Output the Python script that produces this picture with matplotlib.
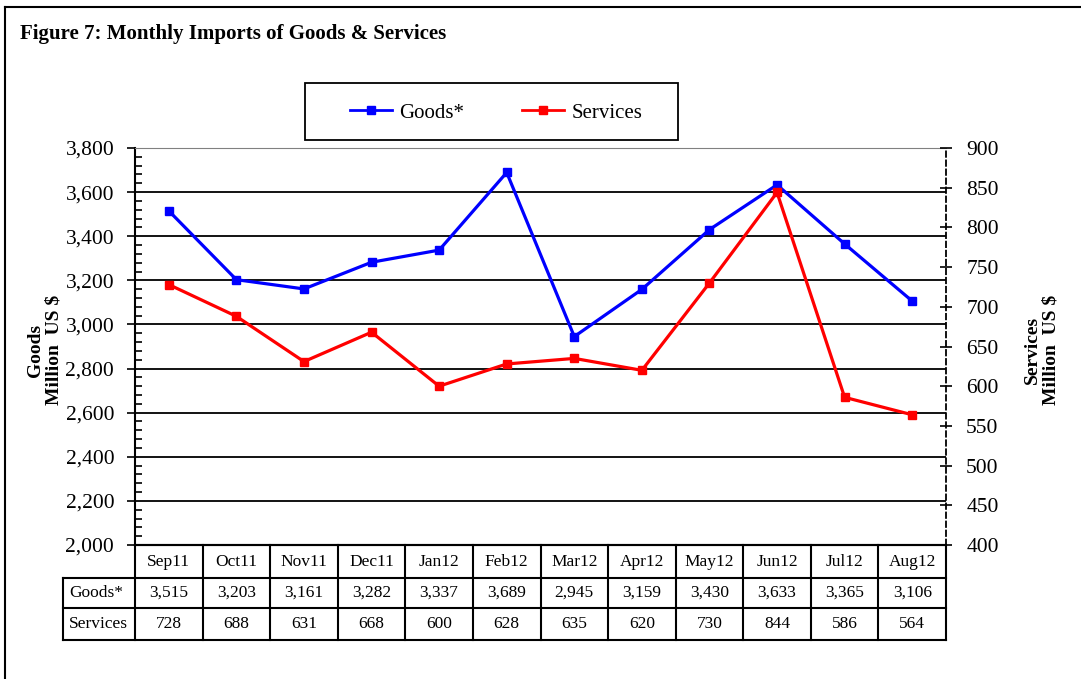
import matplotlib
matplotlib.use("Agg")
import matplotlib.pyplot as plt
from matplotlib.ticker import MultipleLocator, FuncFormatter
from matplotlib.patches import Rectangle
from matplotlib.lines import Line2D

plt.rcParams['font.family'] = ['Liberation Serif', 'DejaVu Serif']

months = ['Sep11', 'Oct11', 'Nov11', 'Dec11', 'Jan12', 'Feb12',
          'Mar12', 'Apr12', 'May12', 'Jun12', 'Jul12', 'Aug12']
goods = [3515, 3203, 3161, 3282, 3337, 3689, 2945, 3159, 3430, 3633, 3365, 3106]
services = [728, 688, 631, 668, 600, 628, 635, 620, 730, 844, 586, 564]
row_names = ['Goods*', 'Services']

W, H = 1081, 679
fig = plt.figure(figsize=(W / 100, H / 100), dpi=100)

# plot area in pixels
L, R, T, B = 135, 946, 148, 545
ax = fig.add_axes([L / W, 1 - B / H, (R - L) / W, (B - T) / H])
ax2 = ax.twinx()

x = list(range(len(months)))
ax.plot(x, goods, color='#0000ff', lw=2.3, marker='s', ms=6, zorder=5)
ax2.plot(x, services, color='#ff0000', lw=2.3, marker='s', ms=6, zorder=5)

ax.set_xlim(-0.5, 11.5)
ax.set_ylim(2000, 3800)
ax2.set_ylim(400, 900)

# left axis
ax.yaxis.set_major_locator(MultipleLocator(200))
ax.yaxis.set_minor_locator(MultipleLocator(40))
ax.yaxis.set_major_formatter(FuncFormatter(lambda v, p: f'{v:,.0f}'))
ax.tick_params(axis='y', which='major', direction='out', length=6, width=1.2,
               labelsize=15.5, pad=9)
ax.tick_params(axis='y', which='minor', direction='in', length=5, width=1.2)
ax.set_xticks([])
ax.grid(axis='y', which='major', color='black', lw=1.3)
ax.set_axisbelow(True)
ax.spines['left'].set_linewidth(1.5)
ax.spines['bottom'].set_linewidth(1.5)
ax.spines['top'].set_color('#808080')
ax.spines['right'].set_visible(False)

# right axis
ax2.yaxis.set_major_locator(MultipleLocator(50))
ax2.tick_params(axis='y', which='major', direction='inout', length=9, width=1.2,
                labelsize=15.5, pad=10)
ax2.spines['right'].set_linestyle((0, (3, 2)))
ax2.spines['right'].set_linewidth(1.3)
for s in ['left', 'top', 'bottom']:
    ax2.spines[s].set_visible(False)

# axis titles
fig.text(45 / W, 1 - 350 / H, 'Goods\nMillion  US $', rotation=90, ha='center',
         va='center', fontsize=14, fontweight='bold', linespacing=1.1)
fig.text(1042 / W, 1 - 350 / H, 'Services\nMillion  US $', rotation=90, ha='center',
         va='center', fontsize=14, fontweight='bold', linespacing=1.1)

# data table below the plot
aw, ah = R - L, B - T
def fx(px):
    return (px - L) / aw
def fy(py):
    return (B - py) / ah

rows_y = [545, 578, 608, 640]
lab_left = fx(63)
n = len(months)
kw = dict(transform=ax.transAxes, clip_on=False, color='black', lw=1.5)
# horizontal lines
ax.add_line(Line2D([0, 1], [fy(rows_y[0])] * 2, **kw))
for py in rows_y[1:]:
    ax.add_line(Line2D([lab_left, 1], [fy(py)] * 2, **kw))
# vertical lines
for i in range(n + 1):
    ax.add_line(Line2D([i / n, i / n], [fy(rows_y[0]), fy(rows_y[-1])], **kw))
ax.add_line(Line2D([lab_left, lab_left], [fy(rows_y[1]), fy(rows_y[-1])], **kw))

centers = [(rows_y[k] + rows_y[k + 1]) / 2 for k in range(3)]
for i, m in enumerate(months):
    xc = (i + 0.5) / n
    ax.text(xc, fy(centers[0]), m, transform=ax.transAxes, ha='center',
            va='center', fontsize=12.5)
    ax.text(xc, fy(centers[1]), f'{goods[i]:,}', transform=ax.transAxes,
            ha='center', va='center', fontsize=12.5)
    ax.text(xc, fy(centers[2]), f'{services[i]:,}', transform=ax.transAxes,
            ha='center', va='center', fontsize=12.5)
for k, name in enumerate(row_names):
    ax.text(fx(69), fy(centers[k + 1]), name, transform=ax.transAxes,
            ha='left', va='center', fontsize=12.5)

# legend with manual box
fig.patches.append(Rectangle((305 / W, 1 - 140 / H), 373 / W, 57 / H,
                             transform=fig.transFigure, fill=False,
                             edgecolor='black', lw=1.3))
handles = [Line2D([], [], color='#0000ff', lw=2, marker='s', ms=6),
           Line2D([], [], color='#ff0000', lw=2, marker='s', ms=6)]
fig.legend(handles, row_names, loc='center', bbox_to_anchor=(496 / W, 1 - 113 / H),
           ncol=2, frameon=False, fontsize=15, handlelength=2.0,
           columnspacing=2.8, handletextpad=0.35)

# title and outer border
fig.text(20 / W, 1 - 34 / H, 'Figure 7: Monthly Imports of Goods & Services',
         fontsize=15, fontweight='bold', ha='left', va='center')
fig.lines.append(Line2D([5 / W, 5 / W], [0, 1 - 7 / H], transform=fig.transFigure,
                        color='black', lw=1.5))
fig.lines.append(Line2D([5 / W, 1], [1 - 7 / H, 1 - 7 / H], transform=fig.transFigure,
                        color='black', lw=1.5))

fig.savefig('out.png', dpi=100)
